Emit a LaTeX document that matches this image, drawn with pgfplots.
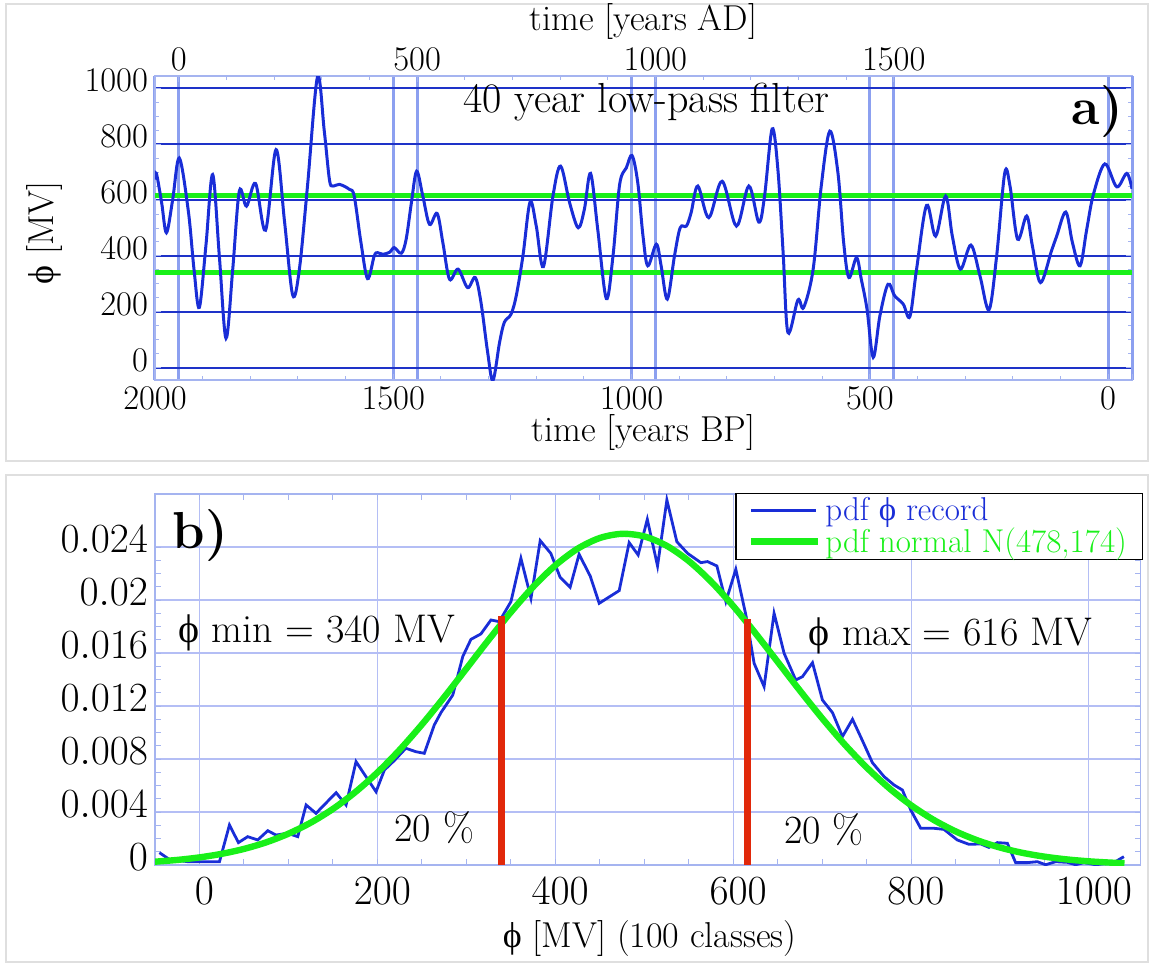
\documentclass[border=0pt]{standalone}
\usepackage{fontspec}
\usepackage{pgfplots}
\pgfplotsset{compat=1.18}
\newfontfamily\gr{Liberation Serif}
\definecolor{cCurve}{RGB}{25,45,215}
\definecolor{cHline}{RGB}{30,50,200}
\definecolor{cVgrid}{RGB}{140,160,240}
\definecolor{cAxis}{RGB}{165,180,240}
\definecolor{cGridB}{RGB}{180,190,245}
\definecolor{cGreen}{RGB}{25,240,25}
\definecolor{cRed}{RGB}{225,40,10}
\newcommand{\fa}{\fontsize{18}{20}\selectfont}
\newcommand{\fb}{\fontsize{20}{22}\selectfont}
\pgfplotsset{
  blueimg/.style={legend image code/.code={\draw[##1] (0pt,0pt) -- (32.5pt,0pt);}},
  greenimg/.style={legend image code/.code={\draw[##1] (0pt,0pt) -- (33.5pt,0pt);}},
  /pgf/number format/1000 sep={},
}
\begin{document}
\begin{tikzpicture}
\draw[gray!25, line width=0.6pt] (3pt,-2pt) rectangle (574pt,-230.5pt);
\draw[gray!25, line width=0.6pt] (3pt,-237.5pt) rectangle (574pt,-481pt);
% ---------- panel a, top (AD) axis
\begin{axis}[
  at={(77.5pt,-190pt)}, anchor=south west, scale only axis,
  width=488.5pt, height=152pt,
  xmin=-50, xmax=2000, ymin=-43, ymax=1043,
  axis x line*=top, axis y line=none,
  axis line style={cAxis, line width=0.6pt},
  xtick={0,500,1000,1500}, minor x tick num=4,
  tick style={cAxis, line width=0.5pt}, major tick length=3pt, minor tick length=2pt,
  xmajorgrids, major x grid style={cVgrid, line width=1.5pt},
  xticklabel style={font=\fa, yshift=-1pt},
  xlabel={time [years AD]},
  xlabel style={font=\fa, at={(axis description cs:0.5,1.178)}, anchor=center},
]
\addplot[draw=none] coordinates {(0,0)};
\end{axis}
% ---------- panel a, main
\begin{axis}[
  at={(77.5pt,-190pt)}, anchor=south west, scale only axis,
  width=488.5pt, height=152pt,
  xmin=-50, xmax=2000, x dir=reverse, ymin=-43, ymax=1043,
  axis line style={cAxis, line width=0.6pt},
  xtick={0,500,1000,1500,2000}, minor x tick num=4, xtick pos=lower,
  extra x ticks={-50}, extra x tick labels={},
  ytick={0,200,400,600,800,1000}, minor y tick num=3, ytick pos=both,
  tick style={cAxis, line width=0.5pt}, major tick length=3pt, minor tick length=2pt,
  xmajorgrids, ymajorgrids,
  major x grid style={cVgrid, line width=1.5pt},
  major y grid style={cHline, line width=1.3pt},
  xticklabel style={font=\fa},
  yticklabel style={font=\fa, yshift=4pt},
  xlabel={time [years BP]},
  xlabel style={font=\fa, at={(axis description cs:0.5,-0.174)}, anchor=center},
  ylabel={{\gr ϕ} [MV]},
  ylabel style={font=\fa, at={(axis description cs:-0.113,0.484)}, anchor=center},
]
\addplot[cGreen, line width=2.4pt] coordinates {(-50,616) (2000,616)};
\addplot[cGreen, line width=2.4pt] coordinates {(-50,340) (2000,340)};
\addplot[cCurve, line width=1.5pt, smooth, tension=0.55] table {
x y
2000 673
1997 695
1986 590
1976 483
1963 600
1949 750
1930 560
1918 350
1907 216
1893 440
1879 691
1865 400
1851 106
1837 350
1823 632
1808 578
1789 659
1768 492
1746 780
1728 520
1711 260
1697 353
1680 650
1659 1040
1645 850
1634 673
1627 650
1613 656
1592 638
1582 614
1568 450
1554 319
1540 400
1533 412
1522 406
1507 414
1498 430
1483 410
1473 460
1462 590
1451 703
1438 614
1424 513
1408 552
1396 448
1382 317
1364 353
1344 287
1328 323
1316 234
1302 56
1291 -45
1277 91
1267 163
1253 192
1242 258
1228 400
1213 593
1200 507
1185 362
1165 614
1149 721
1130 590
1112 501
1099 567
1086 695
1071 495
1053 248
1039 400
1025 656
1011 715
999 759
987 662
976 471
966 365
948 442
938 365
925 246
910 400
898 501
885 507
875 555
861 650
838 537
810 667
780 507
754 650
733 521
721 614
705 854
693 709
682 412
672 127
651 243
639 216
619 353
602 650
584 846
567 697
555 448
544 323
528 394
518 317
506 210
493 38
479 186
462 299
448 258
430 228
416 184
402 353
381 581
362 471
341 614
327 471
310 353
288 439
269 329
250 208
234 400
217 697
206 650
190 460
171 543
159 436
142 305
119 418
108 471
89 557
75 448
59 365
45 495
31 620
7 729
-18 647
-39 695
-50 640
};
\node[anchor=base, font=\fontsize{21}{23}\selectfont] at (axis cs:969,911) {40 year low-pass filter};
\node[anchor=base, font=\fontsize{26}{28}\selectfont\bfseries] at (axis cs:23,869) {a)};
\end{axis}
% ---------- panel b
\begin{axis}[
  at={(77.5pt,-432.5pt)}, anchor=south west, scale only axis,
  width=492.75pt, height=185.5pt,
  xmin=-50, xmax=1058, ymin=0, ymax=0.028,
  axis line style={cAxis, line width=0.6pt},
  xtick={0,200,400,600,800,1000}, minor x tick num=3,
  ytick={0,0.004,0.008,0.012,0.016,0.02,0.024}, minor y tick num=3,
  tick pos=both,
  tick style={cAxis, line width=0.5pt}, major tick length=3pt, minor tick length=3pt,
  xmajorgrids, ymajorgrids,
  major x grid style={cGridB, line width=0.5pt},
  major y grid style={cGridB, line width=0.9pt},
  scaled y ticks=false,
  yticklabel style={font=\fb, yshift=4pt, /pgf/number format/fixed, /pgf/number format/precision=3},
  xticklabel style={font=\fb, xshift=2.5pt, yshift=-3pt},
  xlabel={{\gr ϕ} [MV] (100 classes)},
  xlabel style={font=\fa, at={(axis description cs:0.502,-0.197)}, anchor=center},
  legend cell align=left,
  legend style={at={(axis description cs:1.003,1.003)}, anchor=north east,
    draw=black, line width=0.6pt, font=\fontsize{16.5}{17}\selectfont,
    inner xsep=6pt, inner ysep=2pt, row sep=2pt,
    nodes={inner ysep=0pt, inner xsep=2pt}},
]
\addplot[cCurve, line width=1.4pt, blueimg] table {
x y
-45 0.00093
-34 0.00043
-13 0.00025
22.5 0.00025
33.7 0.00302
43.8 0.00169
54.3 0.00214
65.5 0.00189
76.8 0.00259
86.1 0.00226
99 0.00240
110.5 0.00214
119.9 0.00453
131 0.0039
153.6 0.00546
164.8 0.00453
176 0.0078
198.5 0.00553
207.9 0.00717
219 0.00788
232 0.00881
243.4 0.00855
252.8 0.00843
264 0.01057
271.5 0.0115
284.8 0.01283
296 0.01573
305.2 0.01703
316.4 0.01744
327.7 0.01849
337 0.01837
350.2 0.01988
361.4 0.02315
372.7 0.02013
383.1 0.02448
395 0.02352
405.5 0.02171
416.7 0.02096
426.8 0.02345
439.3 0.02181
449.4 0.01975
471.9 0.02071
483.1 0.02433
493.2 0.0234
503.5 0.02609
515 0.02257
525.5 0.02755
536.7 0.0244
548.8 0.02352
563.7 0.02282
571.2 0.0229
581.7 0.02257
591.8 0.01988
603 0.02232
614.3 0.01887
623.6 0.01522
634.8 0.01346
646 0.019
657.3 0.01598
670.4 0.01396
678 0.01422
689.2 0.01527
700.4 0.01245
711.7 0.0115
722.9 0.00969
734.2 0.011
745.4 0.00938
756.6 0.00772
769.7 0.00667
780.9 0.00604
790.3 0.00566
799.7 0.00415
810.9 0.00277
825.8 0.00277
837 0.00269
852 0.00189
865.1 0.00156
878.3 0.00159
887.6 0.00133
897 0.00169
908.3 0.00164
917.6 0.00018
930.8 0.00018
942 0.00025
951.3 0.00002
962.6 0.00025
975.7 0.0002
985 0.00002
994.4 0.00018
1007.5 0.00002
1028 0.00018
1039.3 0.00063
};
\addlegendentry{\textcolor{cCurve}{pdf {\gr ϕ} record}}
\addplot[cGreen, line width=3.2pt, smooth, greenimg] table {
x y
-50 0.000250
-25 0.000383
0 0.000575
25 0.000844
50 0.001214
75 0.001711
100 0.002363
125 0.003193
150 0.004229
175 0.005490
200 0.006978
225 0.008688
250 0.010595
275 0.012658
300 0.014814
325 0.016985
350 0.019072
375 0.020983
400 0.022610
425 0.023867
450 0.024678
475 0.024996
500 0.024801
525 0.024105
550 0.022950
575 0.021403
600 0.019553
625 0.017498
650 0.015338
675 0.013170
700 0.011078
725 0.009128
750 0.007368
775 0.005825
800 0.004513
825 0.003423
850 0.002543
875 0.001852
900 0.001320
925 0.000922
950 0.000631
975 0.000423
1000 0.000278
1025 0.000179
1040 0.000136
};
\addlegendentry{\textcolor{cGreen}{pdf normal N(478,174)}}
\addplot[cRed, line width=3.5pt, forget plot] coordinates {(340,0) (340,0.0188)};
\addplot[cRed, line width=3.5pt, forget plot] coordinates {(616,0) (616,0.0186)};
\node[anchor=base, font=\fontsize{26}{28}\selectfont\bfseries] at (axis cs:1,0.0239) {b)};
\node[anchor=base, font=\fb] at (axis cs:132,0.01676) {{\gr ϕ} min = 340 MV};
\node[anchor=base, font=\fb] at (axis cs:264,0.00175) {20 \%};
\node[anchor=base, font=\fb] at (axis cs:844.6,0.01659) {{\gr ϕ} max = 616 MV};
\node[anchor=base, font=\fb] at (axis cs:702,0.00163) {20 \%};
\end{axis}
\pgfresetboundingbox
\path[use as bounding box] (0pt,0pt) rectangle (575.5pt,-481.5pt);
\end{tikzpicture}
\end{document}
